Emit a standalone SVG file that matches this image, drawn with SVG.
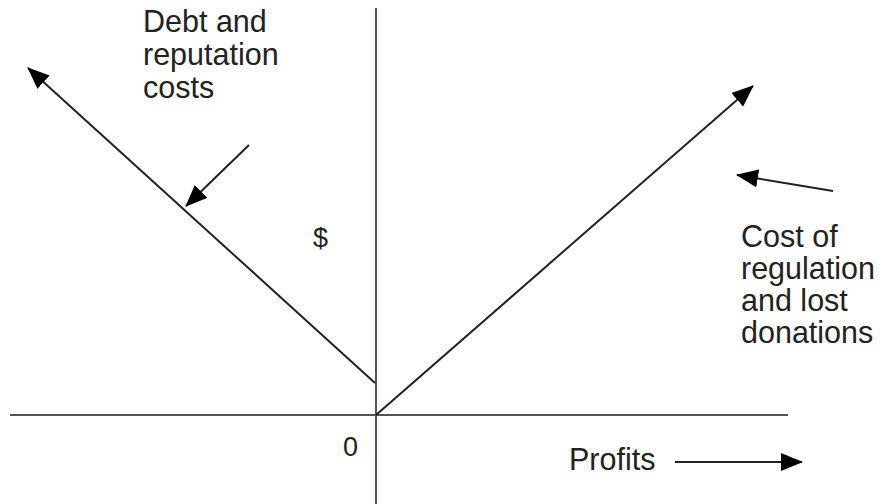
<svg xmlns="http://www.w3.org/2000/svg" width="885" height="504" viewBox="0 0 885 504">
<defs>
<style>
.ln{stroke:#222;stroke-width:2;fill:none}
.ax{stroke:#555;stroke-width:2;fill:none}
.t{font-family:"Liberation Sans",Arial,sans-serif;font-size:30.5px;fill:#222}
</style>
<marker id="ah" viewBox="0 0 22 18" refX="21" refY="9" markerWidth="22" markerHeight="18" markerUnits="userSpaceOnUse" orient="auto">
<path d="M0,0 L22,9 L0,18 Z" fill="#000"/>
</marker>
</defs>
<g id="axes">
<line class="ax" x1="376" y1="8" x2="376" y2="504"/>
<line class="ax" x1="10" y1="415" x2="788" y2="415"/>
</g>
<g id="connectors">
<line class="ln" x1="375" y1="383" x2="28" y2="68" marker-end="url(#ah)"/>
<line class="ln" x1="376" y1="415" x2="753" y2="86" marker-end="url(#ah)"/>
<line class="ln" x1="249" y1="145" x2="186" y2="206" marker-end="url(#ah)"/>
<line class="ln" x1="833" y1="191" x2="737" y2="175" marker-end="url(#ah)"/>
<line class="ln" x1="675" y1="462" x2="802" y2="462" marker-end="url(#ah)"/>
</g>
<g id="label-debt">
<text class="t" x="143" y="32">Debt and</text>
<text class="t" x="143" y="65">reputation</text>
<text class="t" x="143" y="98">costs</text>
</g>
<g id="label-regulation">
<text class="t" x="741" y="247">Cost of</text>
<text class="t" x="741" y="279">regulation</text>
<text class="t" x="741" y="311">and lost</text>
<text class="t" x="741" y="343">donations</text>
</g>
<g id="label-dollar"><text class="t" x="313" y="247" style="font-size:27px">$</text></g>
<g id="label-zero"><text class="t" x="343" y="456" style="font-size:27px">0</text></g>
<g id="label-profits"><text class="t" x="569" y="470">Profits</text></g>
</svg>
